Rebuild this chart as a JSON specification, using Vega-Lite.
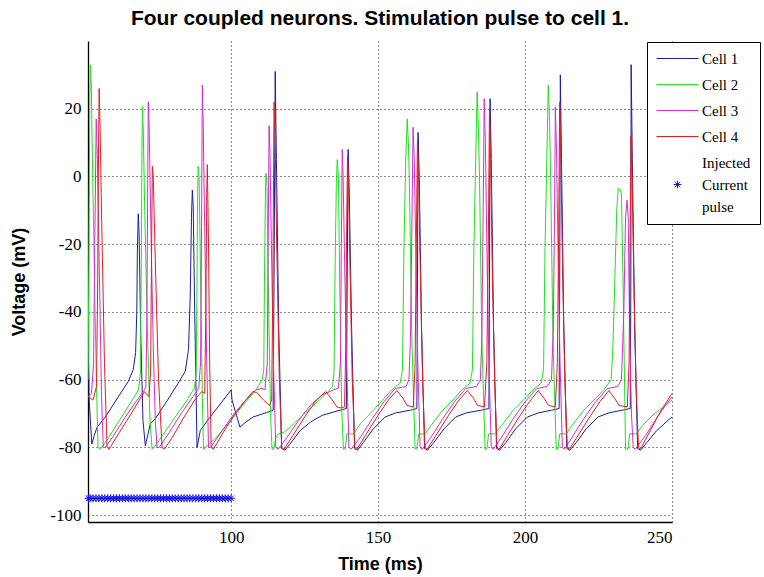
{
"$schema":"https://vega.github.io/schema/vega-lite/v6.json",
"width":584,"height":481,
"autosize":{"type":"none"},
"padding":{"left":88,"top":41,"right":92,"bottom":55},
"background":"white",
"config":{"view":{"stroke":null}},
"title":{"text":"Four coupled neurons. Stimulation pulse to cell 1.","font":"Liberation Sans","fontSize":21,"fontWeight":"bold","anchor":"middle","offset":12,"color":"black"},
"datasets":{
"traces":[
{"t":51.3,"v":-45,"c":"Cell 1"},{"t":51.7,"v":-66,"c":"Cell 1"},{"t":52.6,"v":-79,"c":"Cell 1"},{"t":53.4,"v":-76.5,"c":"Cell 1"},{"t":54.4,"v":-74,"c":"Cell 1"},{"t":57.2,"v":-71,"c":"Cell 1"},{"t":62,"v":-64.5,"c":"Cell 1"},{"t":65,"v":-60.5,"c":"Cell 1"},{"t":66.7,"v":-57,"c":"Cell 1"},{"t":67.5,"v":-52,"c":"Cell 1"},{"t":67.9,"v":-40,"c":"Cell 1"},{"t":68.1,"v":-22,"c":"Cell 1"},{"t":68.4,"v":-11,"c":"Cell 1"},{"t":68.7,"v":-17,"c":"Cell 1"},{"t":69.2,"v":-45,"c":"Cell 1"},{"t":70.0,"v":-72,"c":"Cell 1"},{"t":70.8,"v":-79.5,"c":"Cell 1"},{"t":71.6,"v":-76.5,"c":"Cell 1"},{"t":72.5,"v":-73,"c":"Cell 1"},{"t":74.2,"v":-71.5,"c":"Cell 1"},{"t":78,"v":-66.5,"c":"Cell 1"},{"t":82,"v":-61,"c":"Cell 1"},{"t":84.4,"v":-57.5,"c":"Cell 1"},{"t":85.5,"v":-51,"c":"Cell 1"},{"t":86.1,"v":-35,"c":"Cell 1"},{"t":86.5,"v":-12,"c":"Cell 1"},{"t":86.8,"v":-4,"c":"Cell 1"},{"t":87.1,"v":-9,"c":"Cell 1"},{"t":87.6,"v":-40,"c":"Cell 1"},{"t":88.4,"v":-80,"c":"Cell 1"},{"t":89.5,"v":-75,"c":"Cell 1"},{"t":92,"v":-72,"c":"Cell 1"},{"t":96,"v":-67.5,"c":"Cell 1"},{"t":100,"v":-63,"c":"Cell 1"},{"t":100.3,"v":-66,"c":"Cell 1"},{"t":103,"v":-74,"c":"Cell 1"},{"t":105,"v":-72.5,"c":"Cell 1"},{"t":107.5,"v":-71,"c":"Cell 1"},{"t":112,"v":-69.7,"c":"Cell 1"},{"t":114.3,"v":-69,"c":"Cell 1"},{"t":114.6,"v":-30,"c":"Cell 1"},{"t":115.0,"v":31,"c":"Cell 1"},{"t":115.4,"v":5,"c":"Cell 1"},{"t":116.2,"v":-45,"c":"Cell 1"},{"t":117.2,"v":-80.3,"c":"Cell 1"},{"t":118.3,"v":-80.8,"c":"Cell 1"},{"t":120,"v":-79,"c":"Cell 1"},{"t":123.5,"v":-75,"c":"Cell 1"},{"t":127,"v":-72.5,"c":"Cell 1"},{"t":131,"v":-70.5,"c":"Cell 1"},{"t":135,"v":-69.5,"c":"Cell 1"},{"t":139.2,"v":-68.5,"c":"Cell 1"},{"t":139.5,"v":-30,"c":"Cell 1"},{"t":139.8,"v":8,"c":"Cell 1"},{"t":140.2,"v":-5,"c":"Cell 1"},{"t":141.0,"v":-45,"c":"Cell 1"},{"t":142.0,"v":-80.3,"c":"Cell 1"},{"t":143.0,"v":-80.8,"c":"Cell 1"},{"t":145,"v":-78.5,"c":"Cell 1"},{"t":148.4,"v":-74.5,"c":"Cell 1"},{"t":152.4,"v":-71,"c":"Cell 1"},{"t":156,"v":-69.8,"c":"Cell 1"},{"t":161,"v":-69,"c":"Cell 1"},{"t":163.2,"v":-68.5,"c":"Cell 1"},{"t":163.4,"v":-30,"c":"Cell 1"},{"t":163.6,"v":13,"c":"Cell 1"},{"t":164.0,"v":0,"c":"Cell 1"},{"t":164.8,"v":-45,"c":"Cell 1"},{"t":165.8,"v":-80.3,"c":"Cell 1"},{"t":166.8,"v":-80.8,"c":"Cell 1"},{"t":169,"v":-78.5,"c":"Cell 1"},{"t":172.4,"v":-74.5,"c":"Cell 1"},{"t":176.4,"v":-71,"c":"Cell 1"},{"t":180,"v":-69.8,"c":"Cell 1"},{"t":185,"v":-69,"c":"Cell 1"},{"t":187.7,"v":-68.5,"c":"Cell 1"},{"t":187.9,"v":-30,"c":"Cell 1"},{"t":188.1,"v":23,"c":"Cell 1"},{"t":188.5,"v":5,"c":"Cell 1"},{"t":189.3,"v":-45,"c":"Cell 1"},{"t":190.3,"v":-80.3,"c":"Cell 1"},{"t":191.3,"v":-80.8,"c":"Cell 1"},{"t":193.5,"v":-78.5,"c":"Cell 1"},{"t":196.8,"v":-74.5,"c":"Cell 1"},{"t":200.8,"v":-71,"c":"Cell 1"},{"t":204.5,"v":-69.8,"c":"Cell 1"},{"t":209,"v":-69,"c":"Cell 1"},{"t":211.6,"v":-68.5,"c":"Cell 1"},{"t":211.8,"v":-30,"c":"Cell 1"},{"t":212.0,"v":30,"c":"Cell 1"},{"t":212.4,"v":5,"c":"Cell 1"},{"t":213.2,"v":-45,"c":"Cell 1"},{"t":214.2,"v":-80.3,"c":"Cell 1"},{"t":215.2,"v":-80.8,"c":"Cell 1"},{"t":217.5,"v":-78.5,"c":"Cell 1"},{"t":220.8,"v":-74.5,"c":"Cell 1"},{"t":224.8,"v":-71,"c":"Cell 1"},{"t":228.5,"v":-69.8,"c":"Cell 1"},{"t":233,"v":-69,"c":"Cell 1"},{"t":235.8,"v":-68.5,"c":"Cell 1"},{"t":236.0,"v":-30,"c":"Cell 1"},{"t":236.1,"v":33,"c":"Cell 1"},{"t":236.5,"v":5,"c":"Cell 1"},{"t":237.3,"v":-45,"c":"Cell 1"},{"t":238.3,"v":-80.3,"c":"Cell 1"},{"t":239.3,"v":-80.8,"c":"Cell 1"},{"t":241.5,"v":-78.5,"c":"Cell 1"},{"t":244.8,"v":-75,"c":"Cell 1"},{"t":248,"v":-72.5,"c":"Cell 1"},{"t":250,"v":-71,"c":"Cell 1"},
{"t":51.3,"v":-60,"c":"Cell 2"},{"t":51.6,"v":-25,"c":"Cell 2"},{"t":51.9,"v":20,"c":"Cell 2"},{"t":52.1,"v":33,"c":"Cell 2"},{"t":52.4,"v":28,"c":"Cell 2"},{"t":52.8,"v":5,"c":"Cell 2"},{"t":53.5,"v":-30,"c":"Cell 2"},{"t":54.2,"v":-62,"c":"Cell 2"},{"t":54.7,"v":-80,"c":"Cell 2"},{"t":55.5,"v":-80.5,"c":"Cell 2"},{"t":58,"v":-77.5,"c":"Cell 2"},{"t":62,"v":-72,"c":"Cell 2"},{"t":66,"v":-66.5,"c":"Cell 2"},{"t":68.5,"v":-63,"c":"Cell 2"},{"t":69.1,"v":-58,"c":"Cell 2"},{"t":69.4,"v":-30,"c":"Cell 2"},{"t":69.6,"v":0,"c":"Cell 2"},{"t":69.8,"v":20.6,"c":"Cell 2"},{"t":70.1,"v":14,"c":"Cell 2"},{"t":70.6,"v":-10,"c":"Cell 2"},{"t":71.5,"v":-45,"c":"Cell 2"},{"t":72.4,"v":-72,"c":"Cell 2"},{"t":73.1,"v":-80.5,"c":"Cell 2"},{"t":73.8,"v":-80,"c":"Cell 2"},{"t":77,"v":-76,"c":"Cell 2"},{"t":81,"v":-71,"c":"Cell 2"},{"t":85,"v":-66,"c":"Cell 2"},{"t":87.5,"v":-62.5,"c":"Cell 2"},{"t":88.1,"v":-58,"c":"Cell 2"},{"t":88.4,"v":-30,"c":"Cell 2"},{"t":88.6,"v":-5,"c":"Cell 2"},{"t":88.8,"v":3,"c":"Cell 2"},{"t":89.1,"v":0,"c":"Cell 2"},{"t":89.6,"v":-30,"c":"Cell 2"},{"t":90.2,"v":-65,"c":"Cell 2"},{"t":90.6,"v":-80.5,"c":"Cell 2"},{"t":91.3,"v":-80,"c":"Cell 2"},{"t":95,"v":-77,"c":"Cell 2"},{"t":100,"v":-72,"c":"Cell 2"},{"t":104,"v":-67.5,"c":"Cell 2"},{"t":108.5,"v":-63,"c":"Cell 2"},{"t":110.6,"v":-60,"c":"Cell 2"},{"t":111.1,"v":-57,"c":"Cell 2"},{"t":111.4,"v":-25,"c":"Cell 2"},{"t":111.7,"v":-3,"c":"Cell 2"},{"t":111.9,"v":1,"c":"Cell 2"},{"t":112.2,"v":-3,"c":"Cell 2"},{"t":112.7,"v":-35,"c":"Cell 2"},{"t":113.4,"v":-70,"c":"Cell 2"},{"t":113.9,"v":-80.5,"c":"Cell 2"},{"t":114.5,"v":-80.5,"c":"Cell 2"},{"t":115.2,"v":-77,"c":"Cell 2"},{"t":116.0,"v":-76,"c":"Cell 2"},{"t":118.0,"v":-75.5,"c":"Cell 2"},{"t":120.1,"v":-74,"c":"Cell 2"},{"t":125,"v":-70,"c":"Cell 2"},{"t":130,"v":-66,"c":"Cell 2"},{"t":133,"v":-63.5,"c":"Cell 2"},{"t":134.5,"v":-62,"c":"Cell 2"},{"t":135.0,"v":-58,"c":"Cell 2"},{"t":135.4,"v":-25,"c":"Cell 2"},{"t":135.8,"v":-2,"c":"Cell 2"},{"t":136.1,"v":5,"c":"Cell 2"},{"t":136.5,"v":0,"c":"Cell 2"},{"t":137.0,"v":-35,"c":"Cell 2"},{"t":137.6,"v":-68,"c":"Cell 2"},{"t":138.2,"v":-80.5,"c":"Cell 2"},{"t":138.8,"v":-80.5,"c":"Cell 2"},{"t":139.4,"v":-76,"c":"Cell 2"},{"t":141.6,"v":-76,"c":"Cell 2"},{"t":144,"v":-73,"c":"Cell 2"},{"t":148.4,"v":-69,"c":"Cell 2"},{"t":152,"v":-65.5,"c":"Cell 2"},{"t":154.7,"v":-63,"c":"Cell 2"},{"t":157.5,"v":-61,"c":"Cell 2"},{"t":158.3,"v":-57,"c":"Cell 2"},{"t":158.8,"v":-21,"c":"Cell 2"},{"t":159.4,"v":5,"c":"Cell 2"},{"t":159.9,"v":17,"c":"Cell 2"},{"t":160.3,"v":10,"c":"Cell 2"},{"t":160.6,"v":0,"c":"Cell 2"},{"t":161.5,"v":-48.5,"c":"Cell 2"},{"t":162.6,"v":-80.5,"c":"Cell 2"},{"t":163.2,"v":-80.5,"c":"Cell 2"},{"t":163.8,"v":-76,"c":"Cell 2"},{"t":166,"v":-76,"c":"Cell 2"},{"t":168,"v":-73.5,"c":"Cell 2"},{"t":172,"v":-69,"c":"Cell 2"},{"t":176,"v":-65.5,"c":"Cell 2"},{"t":178.5,"v":-63,"c":"Cell 2"},{"t":181.3,"v":-61,"c":"Cell 2"},{"t":182.1,"v":-57,"c":"Cell 2"},{"t":182.6,"v":-21,"c":"Cell 2"},{"t":183.2,"v":5,"c":"Cell 2"},{"t":183.7,"v":25,"c":"Cell 2"},{"t":184.1,"v":15,"c":"Cell 2"},{"t":184.5,"v":0,"c":"Cell 2"},{"t":185.3,"v":-48,"c":"Cell 2"},{"t":186.4,"v":-80.5,"c":"Cell 2"},{"t":187.0,"v":-80.5,"c":"Cell 2"},{"t":187.6,"v":-76,"c":"Cell 2"},{"t":189.8,"v":-76,"c":"Cell 2"},{"t":192,"v":-73.5,"c":"Cell 2"},{"t":196,"v":-69,"c":"Cell 2"},{"t":200,"v":-65.5,"c":"Cell 2"},{"t":202.7,"v":-63,"c":"Cell 2"},{"t":205.5,"v":-61,"c":"Cell 2"},{"t":206.3,"v":-57,"c":"Cell 2"},{"t":206.8,"v":-21,"c":"Cell 2"},{"t":207.4,"v":5,"c":"Cell 2"},{"t":207.9,"v":27,"c":"Cell 2"},{"t":208.3,"v":18,"c":"Cell 2"},{"t":208.7,"v":0,"c":"Cell 2"},{"t":209.5,"v":-48,"c":"Cell 2"},{"t":210.6,"v":-80.5,"c":"Cell 2"},{"t":211.2,"v":-80.5,"c":"Cell 2"},{"t":211.8,"v":-76,"c":"Cell 2"},{"t":214,"v":-76,"c":"Cell 2"},{"t":216,"v":-73.5,"c":"Cell 2"},{"t":220,"v":-69,"c":"Cell 2"},{"t":224,"v":-65.5,"c":"Cell 2"},{"t":226.8,"v":-63,"c":"Cell 2"},{"t":229.3,"v":-60,"c":"Cell 2"},{"t":229.9,"v":-50,"c":"Cell 2"},{"t":230.6,"v":-29,"c":"Cell 2"},{"t":231.2,"v":-10,"c":"Cell 2"},{"t":231.7,"v":-3.5,"c":"Cell 2"},{"t":232.4,"v":-4,"c":"Cell 2"},{"t":232.8,"v":-5,"c":"Cell 2"},{"t":233.3,"v":-29,"c":"Cell 2"},{"t":234.2,"v":-80.5,"c":"Cell 2"},{"t":235.0,"v":-80.5,"c":"Cell 2"},{"t":235.6,"v":-76,"c":"Cell 2"},{"t":237.8,"v":-76,"c":"Cell 2"},{"t":240,"v":-73.5,"c":"Cell 2"},{"t":244,"v":-70,"c":"Cell 2"},{"t":248,"v":-67.5,"c":"Cell 2"},{"t":250,"v":-66,"c":"Cell 2"},
{"t":51.3,"v":-65,"c":"Cell 3"},{"t":52.5,"v":-64,"c":"Cell 3"},{"t":53.2,"v":-55,"c":"Cell 3"},{"t":53.6,"v":-20,"c":"Cell 3"},{"t":54.1,"v":17,"c":"Cell 3"},{"t":54.5,"v":5,"c":"Cell 3"},{"t":55.2,"v":-30,"c":"Cell 3"},{"t":55.9,"v":-65,"c":"Cell 3"},{"t":56.5,"v":-80,"c":"Cell 3"},{"t":57.2,"v":-80,"c":"Cell 3"},{"t":60,"v":-76.5,"c":"Cell 3"},{"t":64,"v":-71,"c":"Cell 3"},{"t":68,"v":-66,"c":"Cell 3"},{"t":70.5,"v":-63,"c":"Cell 3"},{"t":71.0,"v":-62,"c":"Cell 3"},{"t":71.3,"v":-45,"c":"Cell 3"},{"t":71.6,"v":-5,"c":"Cell 3"},{"t":71.8,"v":22,"c":"Cell 3"},{"t":72.1,"v":15,"c":"Cell 3"},{"t":72.7,"v":-15,"c":"Cell 3"},{"t":73.5,"v":-50,"c":"Cell 3"},{"t":74.2,"v":-72,"c":"Cell 3"},{"t":74.8,"v":-80,"c":"Cell 3"},{"t":75.5,"v":-80,"c":"Cell 3"},{"t":79,"v":-75.5,"c":"Cell 3"},{"t":83,"v":-70,"c":"Cell 3"},{"t":87,"v":-65,"c":"Cell 3"},{"t":89.0,"v":-62.5,"c":"Cell 3"},{"t":89.6,"v":-55,"c":"Cell 3"},{"t":89.9,"v":-20,"c":"Cell 3"},{"t":90.2,"v":27,"c":"Cell 3"},{"t":90.5,"v":15,"c":"Cell 3"},{"t":91.0,"v":-15,"c":"Cell 3"},{"t":91.6,"v":-50,"c":"Cell 3"},{"t":92.3,"v":-80,"c":"Cell 3"},{"t":93,"v":-80,"c":"Cell 3"},{"t":97,"v":-75,"c":"Cell 3"},{"t":101,"v":-70,"c":"Cell 3"},{"t":105,"v":-66,"c":"Cell 3"},{"t":108.5,"v":-63,"c":"Cell 3"},{"t":110.5,"v":-62.5,"c":"Cell 3"},{"t":111.5,"v":-63,"c":"Cell 3"},{"t":112.3,"v":-55,"c":"Cell 3"},{"t":112.6,"v":-20,"c":"Cell 3"},{"t":112.9,"v":15,"c":"Cell 3"},{"t":113.2,"v":8,"c":"Cell 3"},{"t":113.7,"v":-20,"c":"Cell 3"},{"t":114.4,"v":-55,"c":"Cell 3"},{"t":115.2,"v":-80,"c":"Cell 3"},{"t":116,"v":-80.5,"c":"Cell 3"},{"t":119,"v":-77,"c":"Cell 3"},{"t":123,"v":-72,"c":"Cell 3"},{"t":127,"v":-67.5,"c":"Cell 3"},{"t":131,"v":-64.5,"c":"Cell 3"},{"t":134.8,"v":-63,"c":"Cell 3"},{"t":136.5,"v":-62.5,"c":"Cell 3"},{"t":137.2,"v":-55,"c":"Cell 3"},{"t":137.5,"v":-20,"c":"Cell 3"},{"t":137.8,"v":8,"c":"Cell 3"},{"t":138.1,"v":0,"c":"Cell 3"},{"t":138.6,"v":-25,"c":"Cell 3"},{"t":139.3,"v":-55,"c":"Cell 3"},{"t":140.1,"v":-80,"c":"Cell 3"},{"t":140.8,"v":-80.5,"c":"Cell 3"},{"t":144,"v":-77,"c":"Cell 3"},{"t":148,"v":-71.5,"c":"Cell 3"},{"t":152,"v":-66.5,"c":"Cell 3"},{"t":155.8,"v":-62.6,"c":"Cell 3"},{"t":159.5,"v":-62,"c":"Cell 3"},{"t":160.5,"v":-60,"c":"Cell 3"},{"t":161.0,"v":-48.5,"c":"Cell 3"},{"t":161.5,"v":-15,"c":"Cell 3"},{"t":161.9,"v":14.5,"c":"Cell 3"},{"t":162.3,"v":5,"c":"Cell 3"},{"t":162.8,"v":-20,"c":"Cell 3"},{"t":163.5,"v":-55,"c":"Cell 3"},{"t":164.3,"v":-80,"c":"Cell 3"},{"t":165,"v":-80.5,"c":"Cell 3"},{"t":168,"v":-77,"c":"Cell 3"},{"t":172,"v":-71.5,"c":"Cell 3"},{"t":176,"v":-66.5,"c":"Cell 3"},{"t":179.8,"v":-62.6,"c":"Cell 3"},{"t":183.5,"v":-62,"c":"Cell 3"},{"t":184.8,"v":-60,"c":"Cell 3"},{"t":185.3,"v":-48,"c":"Cell 3"},{"t":185.7,"v":-15,"c":"Cell 3"},{"t":186.1,"v":23,"c":"Cell 3"},{"t":186.5,"v":10,"c":"Cell 3"},{"t":187.0,"v":-20,"c":"Cell 3"},{"t":187.7,"v":-55,"c":"Cell 3"},{"t":188.5,"v":-80,"c":"Cell 3"},{"t":189.2,"v":-80.5,"c":"Cell 3"},{"t":192,"v":-77,"c":"Cell 3"},{"t":196,"v":-71.5,"c":"Cell 3"},{"t":200,"v":-66.5,"c":"Cell 3"},{"t":204,"v":-62.6,"c":"Cell 3"},{"t":207.5,"v":-62,"c":"Cell 3"},{"t":209,"v":-60,"c":"Cell 3"},{"t":209.6,"v":-45,"c":"Cell 3"},{"t":210.0,"v":-15,"c":"Cell 3"},{"t":210.3,"v":20.6,"c":"Cell 3"},{"t":210.7,"v":8,"c":"Cell 3"},{"t":211.2,"v":-20,"c":"Cell 3"},{"t":211.9,"v":-55,"c":"Cell 3"},{"t":212.7,"v":-80,"c":"Cell 3"},{"t":213.4,"v":-80.5,"c":"Cell 3"},{"t":216,"v":-77,"c":"Cell 3"},{"t":220,"v":-71.5,"c":"Cell 3"},{"t":224,"v":-66.5,"c":"Cell 3"},{"t":228,"v":-62.6,"c":"Cell 3"},{"t":231.5,"v":-62,"c":"Cell 3"},{"t":232.8,"v":-60,"c":"Cell 3"},{"t":233.6,"v":-40,"c":"Cell 3"},{"t":234.2,"v":-12,"c":"Cell 3"},{"t":234.7,"v":-7,"c":"Cell 3"},{"t":235.1,"v":-12,"c":"Cell 3"},{"t":235.5,"v":-40,"c":"Cell 3"},{"t":236.2,"v":-70,"c":"Cell 3"},{"t":236.8,"v":-80,"c":"Cell 3"},{"t":237.5,"v":-80.5,"c":"Cell 3"},{"t":241,"v":-76.5,"c":"Cell 3"},{"t":245,"v":-71,"c":"Cell 3"},{"t":250,"v":-65,"c":"Cell 3"},
{"t":51.3,"v":-65,"c":"Cell 4"},{"t":53,"v":-66,"c":"Cell 4"},{"t":54.2,"v":-62,"c":"Cell 4"},{"t":54.6,"v":-30,"c":"Cell 4"},{"t":54.9,"v":10,"c":"Cell 4"},{"t":55.1,"v":26,"c":"Cell 4"},{"t":55.4,"v":15,"c":"Cell 4"},{"t":56.0,"v":-15,"c":"Cell 4"},{"t":56.9,"v":-55,"c":"Cell 4"},{"t":57.8,"v":-80,"c":"Cell 4"},{"t":58.5,"v":-80.5,"c":"Cell 4"},{"t":62,"v":-75.5,"c":"Cell 4"},{"t":66,"v":-70,"c":"Cell 4"},{"t":70.5,"v":-63.5,"c":"Cell 4"},{"t":72.0,"v":-65,"c":"Cell 4"},{"t":72.6,"v":-58,"c":"Cell 4"},{"t":72.9,"v":-25,"c":"Cell 4"},{"t":73.2,"v":3,"c":"Cell 4"},{"t":73.5,"v":0,"c":"Cell 4"},{"t":74.2,"v":-25,"c":"Cell 4"},{"t":75.3,"v":-60,"c":"Cell 4"},{"t":76.5,"v":-80,"c":"Cell 4"},{"t":77.3,"v":-80.5,"c":"Cell 4"},{"t":80,"v":-77,"c":"Cell 4"},{"t":84,"v":-71,"c":"Cell 4"},{"t":88,"v":-65.5,"c":"Cell 4"},{"t":90,"v":-63.5,"c":"Cell 4"},{"t":91.0,"v":-64,"c":"Cell 4"},{"t":91.4,"v":-40,"c":"Cell 4"},{"t":91.7,"v":-5,"c":"Cell 4"},{"t":91.9,"v":3.5,"c":"Cell 4"},{"t":92.3,"v":-20,"c":"Cell 4"},{"t":92.7,"v":-55,"c":"Cell 4"},{"t":93.2,"v":-80,"c":"Cell 4"},{"t":94,"v":-80.5,"c":"Cell 4"},{"t":97,"v":-76,"c":"Cell 4"},{"t":101,"v":-70.5,"c":"Cell 4"},{"t":105,"v":-66,"c":"Cell 4"},{"t":107.5,"v":-63.4,"c":"Cell 4"},{"t":109,"v":-64,"c":"Cell 4"},{"t":111,"v":-66,"c":"Cell 4"},{"t":113,"v":-67.6,"c":"Cell 4"},{"t":113.8,"v":-66,"c":"Cell 4"},{"t":114.2,"v":-30,"c":"Cell 4"},{"t":114.6,"v":22,"c":"Cell 4"},{"t":115.0,"v":10,"c":"Cell 4"},{"t":115.5,"v":-20,"c":"Cell 4"},{"t":116.4,"v":-60,"c":"Cell 4"},{"t":117.2,"v":-80,"c":"Cell 4"},{"t":118,"v":-80.5,"c":"Cell 4"},{"t":121,"v":-76.5,"c":"Cell 4"},{"t":125,"v":-71,"c":"Cell 4"},{"t":129,"v":-66,"c":"Cell 4"},{"t":132.2,"v":-63.5,"c":"Cell 4"},{"t":134,"v":-65.5,"c":"Cell 4"},{"t":136,"v":-68,"c":"Cell 4"},{"t":137.1,"v":-68.3,"c":"Cell 4"},{"t":138.6,"v":-68,"c":"Cell 4"},{"t":139.0,"v":-50,"c":"Cell 4"},{"t":139.3,"v":-15,"c":"Cell 4"},{"t":139.6,"v":6,"c":"Cell 4"},{"t":139.9,"v":0,"c":"Cell 4"},{"t":140.4,"v":-25,"c":"Cell 4"},{"t":141.2,"v":-60,"c":"Cell 4"},{"t":142.1,"v":-80,"c":"Cell 4"},{"t":142.8,"v":-80.5,"c":"Cell 4"},{"t":146,"v":-76,"c":"Cell 4"},{"t":150,"v":-70.5,"c":"Cell 4"},{"t":153.5,"v":-66,"c":"Cell 4"},{"t":156.4,"v":-63.2,"c":"Cell 4"},{"t":158.5,"v":-65.5,"c":"Cell 4"},{"t":159.8,"v":-67.6,"c":"Cell 4"},{"t":162,"v":-68,"c":"Cell 4"},{"t":162.6,"v":-55,"c":"Cell 4"},{"t":163.0,"v":-20,"c":"Cell 4"},{"t":163.4,"v":11,"c":"Cell 4"},{"t":163.8,"v":0,"c":"Cell 4"},{"t":164.4,"v":-30,"c":"Cell 4"},{"t":165.2,"v":-62,"c":"Cell 4"},{"t":166,"v":-80,"c":"Cell 4"},{"t":166.7,"v":-80.5,"c":"Cell 4"},{"t":170,"v":-76,"c":"Cell 4"},{"t":174,"v":-70.5,"c":"Cell 4"},{"t":177.5,"v":-66,"c":"Cell 4"},{"t":180.4,"v":-63.2,"c":"Cell 4"},{"t":182.5,"v":-65.5,"c":"Cell 4"},{"t":183.8,"v":-67.6,"c":"Cell 4"},{"t":186.2,"v":-68,"c":"Cell 4"},{"t":187.0,"v":-55,"c":"Cell 4"},{"t":187.5,"v":-20,"c":"Cell 4"},{"t":187.9,"v":20,"c":"Cell 4"},{"t":188.3,"v":5,"c":"Cell 4"},{"t":188.9,"v":-30,"c":"Cell 4"},{"t":189.7,"v":-62,"c":"Cell 4"},{"t":190.5,"v":-80,"c":"Cell 4"},{"t":191.2,"v":-80.5,"c":"Cell 4"},{"t":194,"v":-76.5,"c":"Cell 4"},{"t":198,"v":-71,"c":"Cell 4"},{"t":201.5,"v":-66.5,"c":"Cell 4"},{"t":204.5,"v":-63.2,"c":"Cell 4"},{"t":206.5,"v":-65.5,"c":"Cell 4"},{"t":208,"v":-67.6,"c":"Cell 4"},{"t":210.3,"v":-68,"c":"Cell 4"},{"t":211.0,"v":-55,"c":"Cell 4"},{"t":211.4,"v":-20,"c":"Cell 4"},{"t":211.8,"v":22,"c":"Cell 4"},{"t":212.2,"v":5,"c":"Cell 4"},{"t":212.8,"v":-30,"c":"Cell 4"},{"t":213.6,"v":-62,"c":"Cell 4"},{"t":214.4,"v":-80,"c":"Cell 4"},{"t":215.1,"v":-80.5,"c":"Cell 4"},{"t":218,"v":-76.5,"c":"Cell 4"},{"t":222,"v":-71,"c":"Cell 4"},{"t":225.5,"v":-66.5,"c":"Cell 4"},{"t":228.5,"v":-63.2,"c":"Cell 4"},{"t":230.5,"v":-65.5,"c":"Cell 4"},{"t":232,"v":-67.6,"c":"Cell 4"},{"t":234.8,"v":-68,"c":"Cell 4"},{"t":235.4,"v":-55,"c":"Cell 4"},{"t":235.7,"v":-20,"c":"Cell 4"},{"t":236.0,"v":12,"c":"Cell 4"},{"t":236.4,"v":0,"c":"Cell 4"},{"t":237.0,"v":-30,"c":"Cell 4"},{"t":237.8,"v":-62,"c":"Cell 4"},{"t":238.6,"v":-80,"c":"Cell 4"},{"t":239.3,"v":-80.5,"c":"Cell 4"},{"t":242,"v":-76,"c":"Cell 4"},{"t":246,"v":-69.5,"c":"Cell 4"},{"t":250,"v":-64,"c":"Cell 4"}
],
"pulse":[
{"t":51.5,"v":-95,"c":"Injected"},{"t":52,"v":-95,"c":"Injected"},{"t":53,"v":-95,"c":"Injected"},{"t":54,"v":-95,"c":"Injected"},{"t":55,"v":-95,"c":"Injected"},{"t":56,"v":-95,"c":"Injected"},{"t":57,"v":-95,"c":"Injected"},{"t":58,"v":-95,"c":"Injected"},{"t":59,"v":-95,"c":"Injected"},{"t":60,"v":-95,"c":"Injected"},{"t":61,"v":-95,"c":"Injected"},{"t":62,"v":-95,"c":"Injected"},{"t":63,"v":-95,"c":"Injected"},{"t":64,"v":-95,"c":"Injected"},{"t":65,"v":-95,"c":"Injected"},{"t":66,"v":-95,"c":"Injected"},{"t":67,"v":-95,"c":"Injected"},{"t":68,"v":-95,"c":"Injected"},{"t":69,"v":-95,"c":"Injected"},{"t":70,"v":-95,"c":"Injected"},{"t":71,"v":-95,"c":"Injected"},{"t":72,"v":-95,"c":"Injected"},{"t":73,"v":-95,"c":"Injected"},{"t":74,"v":-95,"c":"Injected"},{"t":75,"v":-95,"c":"Injected"},{"t":76,"v":-95,"c":"Injected"},{"t":77,"v":-95,"c":"Injected"},{"t":78,"v":-95,"c":"Injected"},{"t":79,"v":-95,"c":"Injected"},{"t":80,"v":-95,"c":"Injected"},{"t":81,"v":-95,"c":"Injected"},{"t":82,"v":-95,"c":"Injected"},{"t":83,"v":-95,"c":"Injected"},{"t":84,"v":-95,"c":"Injected"},{"t":85,"v":-95,"c":"Injected"},{"t":86,"v":-95,"c":"Injected"},{"t":87,"v":-95,"c":"Injected"},{"t":88,"v":-95,"c":"Injected"},{"t":89,"v":-95,"c":"Injected"},{"t":90,"v":-95,"c":"Injected"},{"t":91,"v":-95,"c":"Injected"},{"t":92,"v":-95,"c":"Injected"},{"t":93,"v":-95,"c":"Injected"},{"t":94,"v":-95,"c":"Injected"},{"t":95,"v":-95,"c":"Injected"},{"t":96,"v":-95,"c":"Injected"},{"t":97,"v":-95,"c":"Injected"},{"t":98,"v":-95,"c":"Injected"},{"t":99,"v":-95,"c":"Injected"},{"t":100,"v":-95,"c":"Injected"}
]
},
"layer":[
{"data":{"name":"traces"},
 "mark":{"type":"line","strokeWidth":1,"clip":true,"interpolate":"linear"},
 "encoding":{
  "x":{"field":"t","type":"quantitative","scale":{"domain":[51.3,250],"nice":false,"zero":false},
   "axis":{"values":[100,150,200,250],"title":"Time (ms)","grid":true,"gridColor":"black","gridDash":[1,3],"gridOpacity":0.9,"domainColor":"black","domainWidth":1.3,"ticks":false,"labelFont":"Liberation Serif","labelFontSize":17,"labelColor":"black","labelPadding":7,"titleFont":"Liberation Sans","titleFontSize":18,"titleFontWeight":"bold","titleColor":"black","titlePadding":10}},
  "y":{"field":"v","type":"quantitative","scale":{"domain":[-102,40],"nice":false,"zero":false},
   "axis":{"values":[-100,-80,-60,-40,-20,0,20],"labelExpr":"toString(datum.value)","title":"Voltage (mV)","grid":true,"gridColor":"black","gridDash":[1,3],"gridOpacity":0.9,"domainColor":"black","domainWidth":1.3,"ticks":false,"labelFont":"Liberation Serif","labelFontSize":17,"labelColor":"black","labelPadding":7,"titleFont":"Liberation Sans","titleFontSize":18,"titleFontWeight":"bold","titleColor":"black","titlePadding":21}},
  "color":{"field":"c","type":"nominal",
   "scale":{"domain":["Cell 1","Cell 2","Cell 3","Cell 4","Injected"],"range":["#1c1ca0","#22e022","#d030d0","#e02020","#1414e6"]},
   "legend":{"orient":"none","legendX":559,"legendY":1,"title":null,"strokeColor":"black","fillColor":"white","padding":9,"cornerRadius":0,
    "symbolType":"M-1,0L5,0","symbolSize":196,"symbolStrokeWidth":1,
    "labelFont":"Liberation Serif","labelFontSize":15,"labelColor":"black","labelOffset":31,"rowPadding":10,
    "labelExpr":"datum.value == 'Injected' ? ['Injected','Current',' pulse'] : datum.label",
    "encode":{"symbols":{"update":{"shape":{"signal":"datum.value == 'Injected' ? 'M1.45,3.14L2.55,3.14M2,2.59L2,3.69M1.6,2.74L2.4,3.54M1.6,3.54L2.4,2.74' : 'M-1,0L5,0'"},"stroke":{"signal":"scale('color', datum.value)"},"fill":{"value":"transparent"},"strokeWidth":{"value":1}}},
     "labels":{"update":{"lineHeight":{"value":22}}}}}}
 }},
{"data":{"name":"pulse"},
 "mark":{"type":"point","shape":"M-1,0L1,0M0,-1L0,1M-0.7,-0.7L0.7,0.7M-0.7,0.7L0.7,-0.7","size":64,"strokeWidth":1,"filled":false,"opacity":1},
 "encoding":{
  "x":{"field":"t","type":"quantitative"},
  "y":{"field":"v","type":"quantitative"},
  "color":{"field":"c","type":"nominal"}
 }}
]
}
